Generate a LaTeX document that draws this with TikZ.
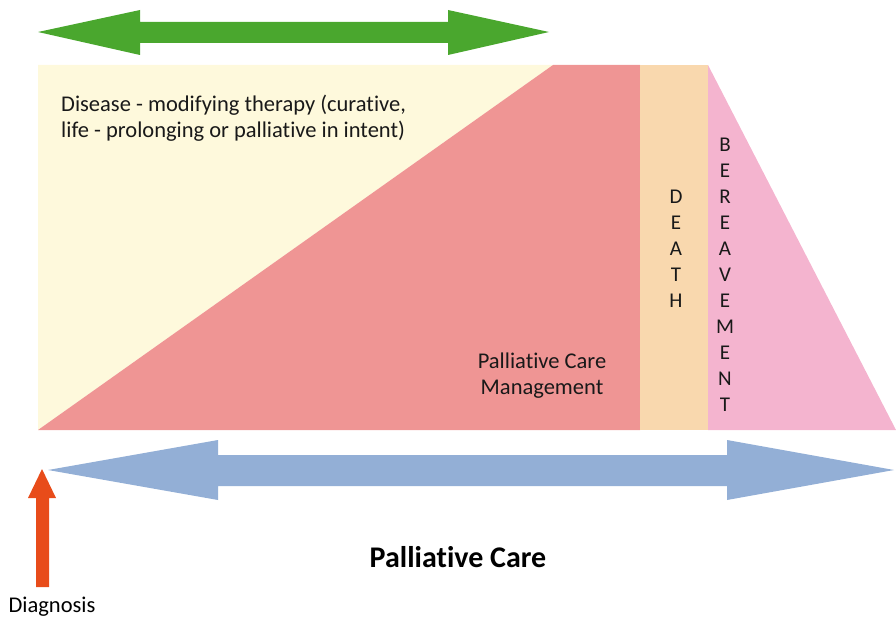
\documentclass[tikz,border=0pt]{standalone}
\usepackage{fontspec}
\setmainfont[Ligatures=NoCommon]{Carlito}
\definecolor{cream}{HTML}{FEF9DC}
\definecolor{pcred}{HTML}{EF9594}
\definecolor{deathc}{HTML}{F9D8AE}
\definecolor{pinkc}{HTML}{F4B4CF}
\definecolor{greenc}{HTML}{4AA72E}
\definecolor{bluec}{HTML}{93AFD6}
\definecolor{orangec}{HTML}{E84C1A}
\tikzset{
  lbl/.style={inner sep=0pt, font=\fontsize{22.5}{26}\selectfont, text=black!90},
  letter/.style={inner sep=0pt, font=\fontsize{21}{22}\selectfont, text=black!90},
}
\begin{document}
\begin{tikzpicture}[x=1pt,y=-1pt]
\useasboundingbox (0,0) rectangle (896,623);
% main areas
\fill[cream] (38,65) -- (553,65) -- (38,430) -- cycle;
\fill[pcred] (38,430) -- (553,65) -- (640,65) -- (640,430) -- cycle;
\fill[deathc] (640,65) rectangle (708,430);
\fill[pinkc] (708,65) -- (896,430) -- (708,430) -- cycle;
% green arrow
\fill[greenc] (38,32) -- (140,10) -- (140,22) -- (448,22) -- (448,10) -- (549,32)
  -- (448,55) -- (448,43) -- (140,43) -- (140,55) -- cycle;
% blue arrow
\fill[bluec] (48,470) -- (218,440) -- (218,455) -- (727,455) -- (727,440) -- (894,470)
  -- (727,500) -- (727,486) -- (218,486) -- (218,500) -- cycle;
% orange arrow
\fill[orangec] (36,587) -- (36,498) -- (28,498) -- (42,469) -- (56,498) -- (49,498) -- (49,587) -- cycle;
% texts
\node[lbl, anchor=west, align=left] (dmt) at (61,118)
  {Disease - modifying therapy (curative,\\life - prolonging or palliative in intent)};
\node[lbl, align=center] (pcm) at (542,376) {Palliative Care\\Management};
\node[inner sep=0pt, font=\bfseries\fontsize{30}{34}\selectfont] (pc) at (458,557) {Palliative Care};
\node[inner sep=0pt, font=\fontsize{22.5}{24}\selectfont] (diag) at (52,607) {Diagnosis};
\foreach \l [count=\i] in {D,E,A,T,H}
  \node[letter] (d\i) at (676,{197+26*(\i-1)}) {\l};
\foreach \l [count=\i] in {B,E,R,E,A,V,E,M,E,N,T}
  \node[letter] (b\i) at (725,{145+26*(\i-1)}) {\l};
\end{tikzpicture}
\end{document}
